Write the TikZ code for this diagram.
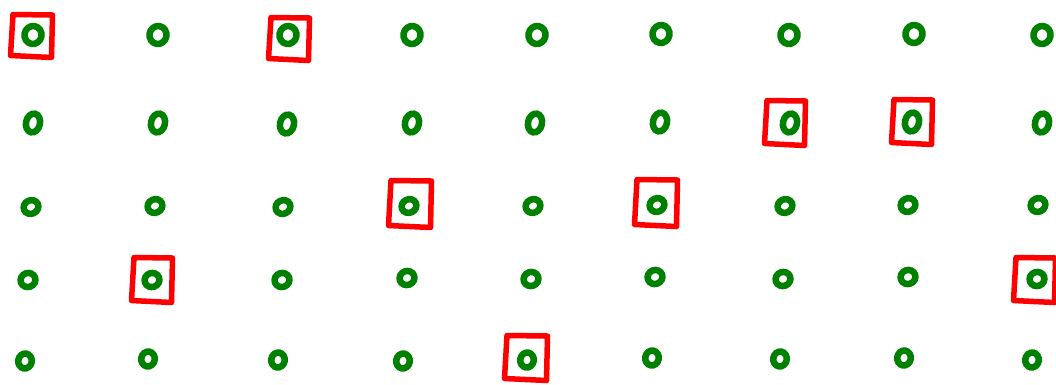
\documentclass[tikz,border=0pt]{standalone}
\usetikzlibrary{shapes.geometric}
\definecolor{dg}{RGB}{0,128,0}
\definecolor{rd}{RGB}{255,0,0}
\tikzset{
  ring/.style={ellipse, draw=dg, line width=6.5pt, inner sep=0pt},
  ringA/.style={ring, minimum width=17pt, minimum height=18pt, rotate=-10},
  ringB/.style={ring, minimum width=14pt, minimum height=19pt, rotate=-12},
  ringC/.style={ring, minimum width=15pt, minimum height=13.5pt, rotate=25},
  ringD/.style={ring, minimum width=15pt, minimum height=14pt, rotate=20},
  ringE/.style={ring, minimum width=13.5pt, minimum height=15pt, rotate=-10},
  redbox/.style={draw=rd, line width=5.5pt, line join=round, line cap=round}
}
\newcommand\redsq[5]{%
  \draw[redbox] ([shift={(#2+1.5,#4)}]#1.center) -- ([shift={(#3,#4+0.5)}]#1.center)
    -- ([shift={(#3-1,#5)}]#1.center) -- ([shift={(#2-1,#5-2)}]#1.center) -- cycle;}
\begin{document}
\begin{tikzpicture}[x=1pt,y=-1pt]
\useasboundingbox (0,0) rectangle (1056,384);
\foreach \x/\y [count=\i] in {33/35,158/35,288/35,412/35,537/35,661/34,789/35,914/34,1042/35}
  \node[ringA] (c1-\i) at (\x,\y) {};
\foreach \x/\y [count=\i] in {33/123,158/123,287/124,412/123,535/123,660/122,790/123,912/122,1042/123}
  \node[ringB] (c2-\i) at (\x,\y) {};
\foreach \x/\y [count=\i] in {31/207,155/206,283/207,409/206,533/206,657/205,785/206,908/205,1038/205}
  \node[ringC] (c3-\i) at (\x,\y) {};
\foreach \x/\y [count=\i] in {28/280,152/280,282/280,407/278,531/279,655/277,783/279,908/277,1037/279}
  \node[ringD] (c4-\i) at (\x,\y) {};
\foreach \x/\y [count=\i] in {25/361,148/359,278/360,403/361,527/360,652/358,780/359,904/358,1032/360}
  \node[ringE] (c5-\i) at (\x,\y) {};
\redsq{c1-1}{-21.5}{19.5}{-20.5}{22.5}
\redsq{c1-3}{-18.5}{21.5}{-17.5}{25.5}
\redsq{c2-7}{-24.5}{15.5}{-22.5}{22.5}
\redsq{c2-8}{-19.5}{20.5}{-22.5}{22.5}
\redsq{c3-4}{-19.5}{22.5}{-25.5}{21.5}
\redsq{c3-6}{-21.5}{20.5}{-25.5}{21.5}
\redsq{c4-2}{-19.5}{20.5}{-22.5}{22.5}
\redsq{c4-9}{-22.5}{18.5}{-21.5}{23.5}
\redsq{c5-5}{-21.5}{20.5}{-24.5}{20.5}
\end{tikzpicture}
\end{document}
